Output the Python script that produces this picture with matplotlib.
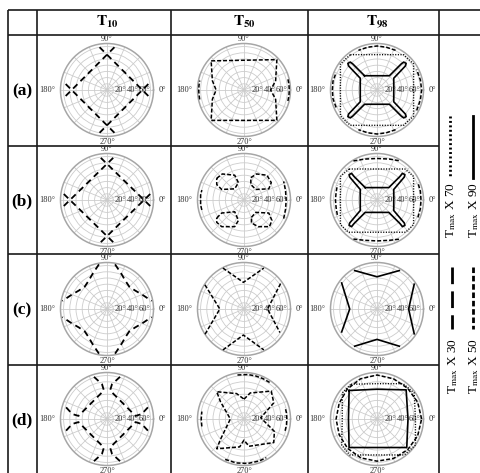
import matplotlib
matplotlib.use('Agg')
import matplotlib.pyplot as plt
import numpy as np

plt.rcParams['font.family'] = 'Liberation Serif'
plt.rcParams['mathtext.fontset'] = 'stix'

W, H = 481, 473

col_titles = [r'$\mathbf{T_{10}}$', r'$\mathbf{T_{50}}$', r'$\mathbf{T_{98}}$']
row_labels = ['(a)', '(b)', '(c)', '(d)']
ring_values = [10, 20, 30, 40, 50, 60, 70]
ring_labels = {20: '20°', 40: '40°', 60: '60°'}
spoke_step = 22.5
r_max = 75

# curves, x/y in the same units as the radius (0..75)
# column T10 (Tmax X 30)
a_t10 = [[(-12, 69), (69, -12)], [(12, 69), (-69, -12)],
         [(12, -69), (-69, 12)], [(-12, -69), (69, 12)]]
b_t10 = [[(-10, 68), (70, -10)], [(10, 68), (-70, -10)],
         [(10, -68), (-70, 10)], [(-10, -68), (70, 10)]]
c_t10 = [[(13, 72), (23, 57), (30, 45), (36, 36), (45, 30), (57, 23), (72, 13)],
         [(-13, 72), (-23, 57), (-30, 45), (-36, 36), (-45, 30), (-57, 23), (-72, 13)],
         [(-13, -72), (-23, -57), (-30, -45), (-36, -36), (-45, -30), (-57, -23), (-72, -13)],
         [(13, -72), (23, -57), (30, -45), (36, -36), (45, -30), (57, -23), (72, -13)]]
d_t10 = [[(21, 68), (8, 56), (5, 46), (46, 5), (56, 8), (68, 21)],
         [(-21, 68), (-8, 56), (-5, 46), (-46, 5), (-56, 8), (-68, 21)],
         [(-21, -68), (-8, -56), (-5, -46), (-46, -5), (-56, -8), (-68, -21)],
         [(21, -68), (8, -56), (5, -46), (46, -5), (56, -8), (68, -21)]]

# column T50 (Tmax X 50)
a_t50 = [[(-53, 47), (0, 48), (53, 49), (51, 15), (43, 0), (51, -15), (53, -49),
          (0, -49), (-53, -49), (-51, -15), (-45, 0), (-51, 15), (-53, 47)],
         [(70.8, -17.7), (72.5, -8.9), (73, 0), (72.5, 8.9), (70.8, 17.7)],
         [(-71.4, -15.2), (-72.6, -7.6), (-73, 0), (-72.6, 7.6), (-71.4, 15.2)]]
b_t50 = [[(11, 36), (20, 42), (37, 40), (44, 28), (40, 18), (19, 17), (11, 25), (11, 36)],
         [(-44, 35), (-35, 42), (-15, 40), (-9, 28), (-15, 18), (-36, 17), (-44, 25), (-44, 35)],
         [(12, -28), (19, -20), (40, -21), (45, -33), (41, -43), (23, -43), (12, -37), (12, -28)],
         [(-44, -29), (-36, -21), (-15, -19), (-9, -33), (-15, -43), (-36, -43), (-44, -36), (-44, -29)],
         [(64, -30), (67, -15), (68, 0), (67, 15), (64, 30)],
         [(-68, -16), (-70, -8), (-70, 0), (-70, 8), (-68, 16)]]
c_t50 = [[(-34, 66), (-1, 43), (32, 66)], [(-34, -66), (-1, -42), (32, -66)],
         [(-63, 39), (-39, 0), (-63, -41)], [(59, 41), (38, 0), (58, -38)]]
d_t50 = [[(0, 32), (10, 42), (44, 45), (48, 26), (27, 2), (49, -20), (48, -38), (8, -44),
          (0, -34), (-7, -45), (-44, -48), (-38, -33), (-22, 0), (-38, 28), (-44, 44),
          (-12, 41), (0, 32)],
         [(66.3, -19), (68.5, -9.6), (69, 0), (68.5, 9.6), (66.3, 19)],
         [(-68, -12), (-69, 0), (-68, 12)],
         [(41.3, 59), (30.4, 65.2), (18.6, 69.5), (6.3, 71.7), (-12.5, 70.9)],
         [(-30.4, -65.2), (-12.5, -70.9), (6.3, -71.7), (24.6, -67.7), (36, -62.4)]]

# column T98: solid (X 90), dotted (X 70), dashed (X 50)
a_t98_solid = [[(-20, 23), (20, 23), (39, 42), (43, 45), (47, 43), (46, 39), (27, 19),
                (27, -19), (46, -39), (47, -43), (43, -45), (39, -42), (20, -23),
                (-20, -23), (-39, -42), (-43, -45), (-47, -43), (-46, -39), (-27, -19),
                (-27, 19), (-46, 39), (-47, 43), (-43, 45), (-39, 42), (-20, 23)]]
a_t98_dotted = [[(-43, 57), (43, 57), (59, 42), (59, -42), (43, -57), (-43, -57),
                 (-59, -42), (-59, 42), (-43, 57)]]
a_t98_dashed = [[(30, 64), (15, 69), (0, 71), (-15, 69), (-30, 64)],
                [(30, -64), (15, -69), (0, -71), (-15, -69), (-30, -64)],
                [(64, -33), (70, -16), (72, 0), (70, 16), (64, 33)],
                [(-66, -28), (-71, -14), (-72, 0), (-71, 14), (-66, 28)]]
b_t98_solid = [[(-19, 20), (19, 20), (37, 38), (41, 43), (45, 41), (44, 37), (27, 17),
                (27, -17), (44, -37), (45, -41), (41, -43), (37, -38), (19, -20),
                (-19, -20), (-37, -38), (-41, -43), (-45, -41), (-44, -37), (-27, -17),
                (-27, 17), (-44, 37), (-45, 41), (-41, 43), (-37, 38), (-19, 20)]]
b_t98_dotted = [[(-45, 50), (45, 50), (59, 38), (59, -40), (46, -52), (-46, -52),
                 (-59, -40), (-59, 38), (-45, 50)]]
b_t98_dashed = [[(-38, 63), (-20, 66), (0, 67), (20, 66), (38, 63)],
                [(-38, -63), (-20, -65), (0, -66), (20, -65), (38, -63)],
                [(66, -28), (70, -14), (71, 0), (70, 14), (66, 28)],
                [(-64, -24), (-66, -12), (-67, 0), (-66, 12), (-64, 24)]]
c_t98_solid = [[(-36, 62), (0, 52), (36, 62)], [(-36, -60), (0, -49), (36, -60)],
               [(-57, 42), (-44, 0), (-57, -37)], [(60, 40), (51, 0), (60, -40)]]
d_t98_solid = [[(-45, 46), (0, 48), (47, 47), (50, 0), (48, -46), (0, -46),
                (-45, -46), (-46, 0), (-45, 46)]]
d_t98_dotted = [[(-42, 56), (0, 57), (42, 57), (60, 42), (62, 0), (62, -42), (44, -58),
                 (0, -58), (-44, -58), (-57, -42), (-56, 0), (-56, 42), (-42, 56)]]
d_t98_dashed = [[(72, 0), (65.6, 27.2), (49.5, 49.5), (26.8, 64.7), (0, 71),
                 (-26.8, 64.7), (-48.1, 48.1), (-61, 25.3), (-66, 0), (-61, -25.3),
                 (-47.4, -47.4), (-26, -62.8), (0, -68), (26.4, -63.7), (49.5, -49.5),
                 (65.6, -27.2), (72, 0)]]

styles = {
    'x30': dict(color='black', lw=1.3, ls=(0, (3.4, 2.4))),
    'x50': dict(color='black', lw=1.1, ls=(0, (2.6, 1.3))),
    'x70': dict(color='black', lw=1.0, ls=(0, (0.8, 1.1))),
    'x90': dict(color='black', lw=1.2, ls='-'),
}

cells = {
    (0, 0): [('x30', a_t10)], (1, 0): [('x30', b_t10)],
    (2, 0): [('x30', c_t10)], (3, 0): [('x30', d_t10)],
    (0, 1): [('x50', a_t50)], (1, 1): [('x50', b_t50)],
    (2, 1): [('x50', c_t50)], (3, 1): [('x50', d_t50)],
    (0, 2): [('x90', a_t98_solid), ('x70', a_t98_dotted), ('x50', a_t98_dashed)],
    (1, 2): [('x90', b_t98_solid), ('x70', b_t98_dotted), ('x50', b_t98_dashed)],
    (2, 2): [('x90', c_t98_solid)],
    (3, 2): [('x90', d_t98_solid), ('x70', d_t98_dotted), ('x50', d_t98_dashed)],
}

# layout in pixels
col_edges = [8, 37, 171, 308, 439]
row_edges = [35, 146, 254, 365, 476]
centers_x = [107, 244, 377]
centers_y = [90, 200, 309, 419]
R = 46.5

fig = plt.figure(figsize=(W / 100, H / 100), dpi=100)

bg = fig.add_axes([0, 0, 1, 1])
bg.set_xlim(0, W)
bg.set_ylim(H, 0)
bg.axis('off')
line_kw = dict(color='#1a1a1a', lw=1.2, solid_capstyle='butt')
for x in col_edges:
    bg.plot([x, x], [10, H], **line_kw)
bg.plot([8, W], [10, 10], **line_kw)
bg.plot([8, W], [35, 35], **line_kw)
for y in row_edges[1:-1]:
    bg.plot([8, 439], [y, y], **line_kw)

for j, t in enumerate(col_titles):
    bg.text(centers_x[j], 22, t, ha='center', va='center', fontsize=11)
for i, lab in enumerate(row_labels):
    bg.text(22, centers_y[i] + 1, lab, ha='center', va='center',
            fontsize=12.5, fontweight='bold')

# legend column
leg = [('x70', 450, 116, 178, r'T$_{\rm max}$ X 70', 210),
       ('x90', 473, 116, 178, r'T$_{\rm max}$ X 90', 210),
       ('x30', 452, 267, 329, r'T$_{\rm max}$ X 30', 366),
       ('x50', 473, 267, 329, r'T$_{\rm max}$ X 50', 366)]
leg_ls = {'x70': (0, (0.7, 0.9)), 'x90': '-', 'x30': (0, (6, 2.6)), 'x50': (0, (2, 1))}
for key, x, y0, y1, txt, ty in leg:
    bg.plot([x, x], [y0, y1], color='black', lw=2.0, ls=leg_ls[key])
    bg.text(x + 1, ty, txt, rotation=90, ha='center', va='center', fontsize=9.5)

label_kw = dict(fontsize=6, color='#333333')
for (i, j), curves in cells.items():
    cx, cy = centers_x[j], centers_y[i]
    rect = [(cx - R) / W, 1 - (cy + R) / H, 2 * R / W, 2 * R / H]
    ax = fig.add_axes(rect, projection='polar')
    ax.set_ylim(0, r_max)
    ax.set_yticks(ring_values)
    ax.set_yticklabels([])
    ax.set_xticks(np.radians(np.arange(0, 360, spoke_step)))
    ax.set_xticklabels([])
    ax.grid(True, color='#cccccc', lw=0.6)
    ax.spines['polar'].set_color('#a6a6a6')
    ax.spines['polar'].set_linewidth(1.1)
    ax.text(0, r_max + 8, '0°', ha='left', va='center', **label_kw)
    ax.text(np.pi, r_max + 8, '180°', ha='right', va='center', **label_kw)
    ax.text(np.pi / 2, r_max + 0.5, '90°', ha='center', va='bottom', **label_kw)
    ax.text(3 * np.pi / 2, r_max + 2, '270°', ha='center', va='top', **label_kw)
    for rv, s in ring_labels.items():
        ax.text(0, rv + 1, s, ha='center', va='center', **label_kw)

    ov = fig.add_axes(rect)
    ov.set_xlim(-r_max, r_max)
    ov.set_ylim(-r_max, r_max)
    ov.axis('off')
    ov.patch.set_alpha(0)
    for key, segs in curves:
        st = styles[key]
        for seg in segs:
            xs = [p[0] for p in seg]
            ys = [p[1] for p in seg]
            ov.plot(xs, ys, color=st['color'], lw=st['lw'], ls=st['ls'],
                    solid_joinstyle='round')

fig.savefig('out.png', dpi=100)
